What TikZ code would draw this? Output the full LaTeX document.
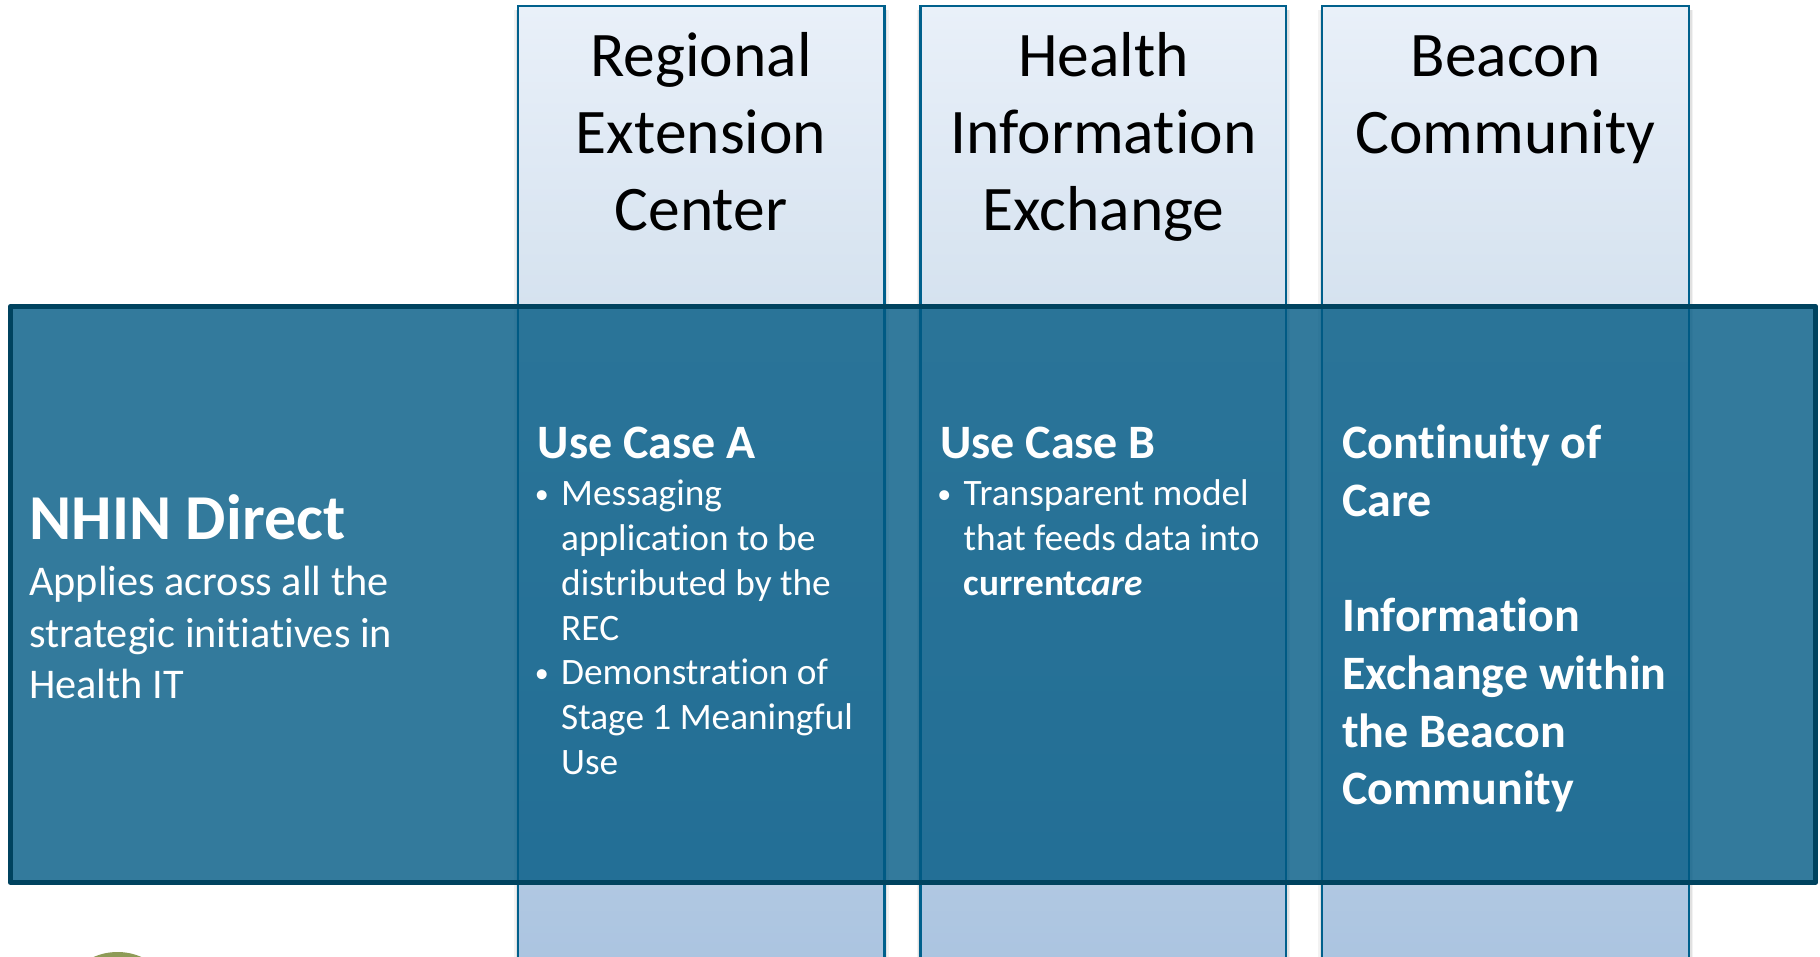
\documentclass[tikz,border=0pt]{standalone}
\usepackage{fontspec}
\setmainfont[Ligatures=NoCommon]{Carlito}
\definecolor{collinec}{HTML}{00608C}
\definecolor{bandfill}{HTML}{005983}
\definecolor{bandline}{HTML}{00435F}
\definecolor{colA}{HTML}{E9F0F9}
\definecolor{colB}{HTML}{D5E2EF}
\definecolor{colC}{HTML}{ABC4E0}
\definecolor{olive}{HTML}{8E9B57}
\pgfdeclareverticalshading{colgrad}{100bp}{color(0bp)=(colC); color(25bp)=(colC); color(59.3bp)=(colB); color(75bp)=(colA); color(100bp)=(colA)}
\tikzset{
  column/.style={draw=collinec,line width=2.3pt,shading=colgrad},
  colshadowwide/.style={draw=black,line width=8pt,opacity=.05},
  colshadownarrow/.style={draw=black,line width=5pt,opacity=.07},
  band/.style={fill=bandfill,fill opacity=.8,draw=bandline,line width=5.2pt,line join=round},
  header/.style={font=\fontsize{63.5}{76.6}\selectfont,align=center,anchor=north,inner sep=0pt,text=black},
  bodytext/.style={font=\fontsize{37.3}{44.8}\selectfont,align=left,anchor=north west,inner sep=0pt,text=white},
  lead/.style={font=\fontsize{48}{57.7}\selectfont\bfseries,align=left,anchor=north west,inner sep=0pt,text=white},
  sidetext/.style={font=\fontsize{42.3}{51.6}\selectfont,align=left,anchor=north west,inner sep=0pt,text=white},
}
\newcommand{\bul}{\llap{\raisebox{2.5pt}{\fontsize{28}{28}\selectfont •}\hspace{12.5pt}}}
\newcommand{\st}[1]{\rule{0pt}{#1pt}}
\begin{document}
\begin{tikzpicture}[x=1pt,y=-1pt]
\useasboundingbox (0,0) rectangle (1820,957);
\fill[olive] (117.5,1012) circle (60);
\foreach \xa/\xb in {518/884.5,920.5/1286,1322/1689}{
  \draw[colshadowwide] (\xb,10) -- (\xb,965) (\xa,10) -- (\xa,965);
  \draw[colshadownarrow] (\xb,10) -- (\xb,965) (\xa,10) -- (\xa,965);
  \draw[column] (\xa,6) rectangle (\xb,965);
}
\draw[band] (10.5,306.5) rectangle (1815.5,882.5);
\node[header] (h1) at (701,26.8) {\st{50}Regional\\Extension\\Center};
\node[header] (h2) at (1103.5,26.8) {\st{50}Health\\Information\\Exchange};
\node[header] (h3) at (1505.5,26.8) {\st{50}Beacon\\Community};
\node[lead,font=\fontsize{64}{60}\selectfont\bfseries] (nhin) at (29.5,489.3) {\st{50}NHIN Direct};
\node[sidetext] (sub) at (29,560.2) {\st{35}Applies across all the\\strategic initiatives in\\Health IT};
\node[lead] (ua) at (537.5,418.3) {\st{40}Use Case A};
\node[bodytext] (ual) at (561,475.4) {\st{30}\bul Messaging\\application to be\\distributed by the\\REC\\\bul Demonstration of\\Stage 1 Meaningful\\Use};
\node[lead] (ub) at (940,418.3) {\st{40}Use Case B};
\node[bodytext] (ubl) at (963.5,475.4) {\st{30}\bul Transparent model\\that feeds data into\\\textbf{current\textit{care}}};
\node[lead] (uc) at (1342,418.3) {\st{40}Continuity of\\Care\\[57.7pt]Information\\Exchange within\\the Beacon\\Community};
\end{tikzpicture}
\end{document}
